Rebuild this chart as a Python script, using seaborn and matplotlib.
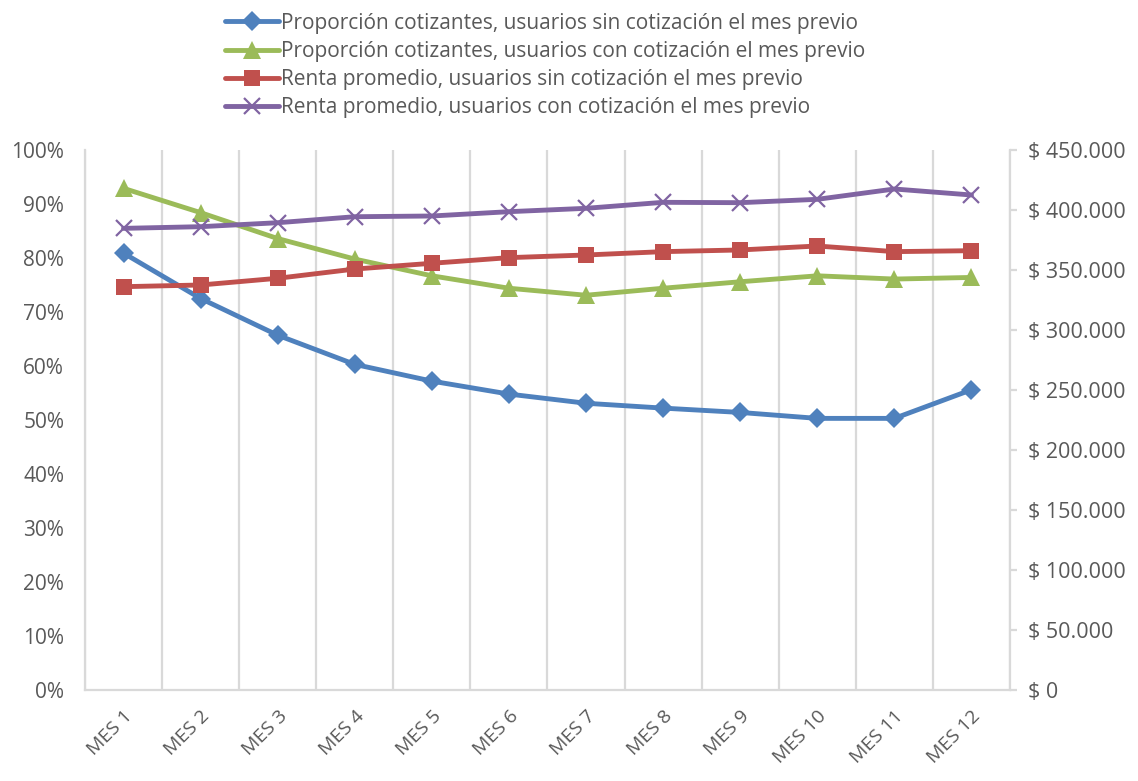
import matplotlib
matplotlib.use("Agg")
import matplotlib.pyplot as plt
from matplotlib.ticker import FuncFormatter, FixedLocator
from matplotlib.lines import Line2D
import seaborn as sns
import numpy as np

months = ["MES 1", "MES 2", "MES 3", "MES 4", "MES 5", "MES 6",
          "MES 7", "MES 8", "MES 9", "MES 10", "MES 11", "MES 12"]
prop_sin = [80.9, 72.5, 65.7, 60.3, 57.2, 54.8, 53.1, 52.2, 51.4, 50.3, 50.3, 55.6]
prop_con = [92.9, 88.4, 83.6, 79.8, 76.7, 74.4, 73.1, 74.4, 75.6, 76.7, 76.1, 76.4]
renta_sin = [336100, 337500, 343100, 350800, 355600, 360300, 362500, 365300, 366700, 370000, 365300, 366100]
renta_con = [384700, 386100, 389400, 394400, 395000, 398600, 401400, 406400, 406100, 408900, 417500, 412500]

labels = ["Proporción cotizantes, usuarios sin cotización el mes previo",
          "Proporción cotizantes, usuarios con cotización el mes previo",
          "Renta promedio, usuarios sin cotización el mes previo",
          "Renta promedio, usuarios con cotización el mes previo"]
colors = ["#4F81BD", "#9BBB59", "#C0504D", "#8064A2"]

sns.set_theme(style="white")
plt.rcParams["font.family"] = ["Open Sans", "DejaVu Sans"]
txt = "#595959"
grid_c = "#D9D9D9"

fig = plt.figure(figsize=(11.38, 7.81), dpi=100)
ax = fig.add_axes([85/1138, 1-690/781, (1010-85)/1138, (690-150)/781])
ax2 = ax.twinx()

x = np.arange(len(months))
lw = 3.5
styles = [
    dict(marker="D", markersize=10, markeredgewidth=0),
    dict(marker="^", markersize=13, markeredgewidth=0),
    dict(marker="s", markersize=12, markeredgewidth=0),
    dict(marker="x", markersize=12, markeredgewidth=1.6),
]
sns.lineplot(x=x, y=prop_sin, ax=ax, color=colors[0], linewidth=lw, markeredgecolor=colors[0], **styles[0])
sns.lineplot(x=x, y=prop_con, ax=ax, color=colors[1], linewidth=lw, markeredgecolor=colors[1], **styles[1])
sns.lineplot(x=x, y=renta_sin, ax=ax2, color=colors[2], linewidth=lw, markeredgecolor=colors[2], **styles[2])
sns.lineplot(x=x, y=renta_con, ax=ax2, color=colors[3], linewidth=lw, markeredgecolor=colors[3], **styles[3])

ax.set_xlim(-0.5, len(months) - 0.5)
ax.set_ylim(0, 100)
ax2.set_ylim(0, 450000)

ax.set_yticks(np.arange(0, 101, 10))
ax.yaxis.set_major_formatter(FuncFormatter(lambda v, p: f"{v:.0f}%"))
ax2.set_yticks(np.arange(0, 450001, 50000))
ax2.yaxis.set_major_formatter(FuncFormatter(lambda v, p: ("$ " + f"{v:,.0f}".replace(",", "."))))

ax.set_xticks(x)
ax.set_xticklabels(months, rotation=45, ha="right", rotation_mode="anchor")
ax.xaxis.set_minor_locator(FixedLocator(np.arange(-0.5, len(months), 1.0)))
ax.grid(which="minor", axis="x", color=grid_c, linewidth=1.6)
ax.grid(which="major", axis="both", visible=False)
ax2.grid(False)
ax.set_axisbelow(True)

for a in (ax, ax2):
    for s in a.spines.values():
        s.set_visible(False)
for side, a in (("bottom", ax), ("left", ax), ("right", ax2)):
    a.spines[side].set_visible(True)
    a.spines[side].set_color(grid_c)
    a.spines[side].set_linewidth(1.6)

ax.tick_params(axis="y", which="both", length=0, labelsize=15, labelcolor=txt, pad=15)
ax.tick_params(axis="x", which="major", length=0, labelsize=14, labelcolor=txt, pad=12)
ax.tick_params(axis="x", which="minor", length=0)
ax2.tick_params(axis="y", length=5, width=1.6, color=grid_c, direction="out",
                labelsize=15.5, labelcolor=txt, pad=8)
ax.set_xlabel("")
ax.set_ylabel("")
ax2.set_ylabel("")

handles = [Line2D([0], [0], color=c, linewidth=lw, markeredgecolor=c, **st) for c, st in zip(colors, styles)]
leg = fig.legend(handles, labels, loc="upper center", bbox_to_anchor=(0.479, 1.008),
                 frameon=False, fontsize=15, handlelength=2.6, handletextpad=0.1,
                 labelspacing=0.35)
for t in leg.get_texts():
    t.set_color(txt)

fig.savefig("out.png", dpi=100)
